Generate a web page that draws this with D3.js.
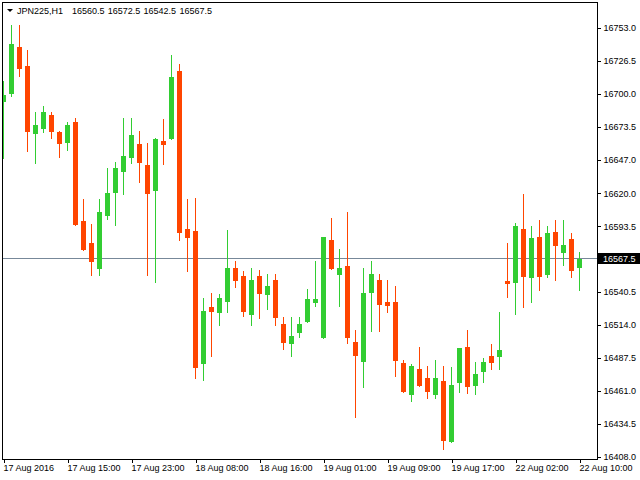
<!DOCTYPE html>
<html>
<head>
<meta charset="utf-8">
<script src="https://cdn.jsdelivr.net/npm/d3@7"></script>
<style>
  body { margin: 0; background: #fff; }
  svg { display: block; font-family: "Liberation Sans", Arial, sans-serif; font-size: 9px; }
</style>
</head>
<body>
<svg id="chart" width="640" height="480"></svg>
<script>
// JPN225 H1 candles, oldest first
var opens  = [16693.5,16700.0,16737.5,16722.5,16668.0,16672.0,16683.0,16669.5,16660.5,16677.5,
              16597.5,16580.0,16559.0,16601.5,16620.0,16637.0,16648.5,16659.5,16642.5,16622.0,
              16662.0,16664.0,16718.5,16591.0,16589.5,16482.5,16528.5,16523.5,16532.5,16560.0,
              16553.5,16522.0,16553.5,16538.0,16550.0,16515.0,16498.5,16507.5,16516.5,16531.5,
              16503.5,16582.5,16554.0,16561.5,16500.5,16484.0,16539.5,16550.0,16532.5,16532.5,
              16483.5,16457.5,16478.5,16471.5,16457.5,16469.0,16420.0,16467.5,16496.5,16465.0,
              16476.0,16489.0,16488.0,16549.5,16548.0,16591.0,16552.0,16585.0,16554.0,16589.0,
              16572.0,16583.0,16560.5];
var highs  = [16710.5,16755.5,16755.5,16735.5,16685.5,16690.0,16685.5,16670.0,16677.5,16680.5,
              16615.5,16595.5,16615.5,16640.5,16645.0,16680.5,16680.5,16670.0,16660.5,16664.5,
              16680.0,16731.5,16724.0,16615.5,16616.0,16535.5,16539.5,16539.0,16590.5,16565.5,
              16557.5,16560.0,16558.0,16555.0,16555.0,16520.5,16520.5,16520.5,16543.0,16565.5,
              16585.0,16600.0,16575.0,16605.0,16510.0,16560.0,16565.5,16555.0,16550.0,16545.5,
              16486.0,16482.5,16496.5,16481.0,16486.0,16481.0,16480.0,16495.5,16510.0,16484.0,
              16487.5,16498.5,16524.5,16580.0,16596.0,16619.5,16593.5,16598.5,16593.5,16598.5,
              16598.5,16588.0,16572.5];
var lows   = [16648.5,16698.5,16714.5,16654.0,16644.5,16669.5,16664.5,16649.5,16654.5,16594.5,
              16574.5,16554.0,16554.0,16599.5,16594.5,16619.5,16644.5,16629.0,16554.0,16548.5,
              16643.5,16664.0,16582.5,16557.5,16471.5,16469.5,16489.0,16514.0,16524.5,16544.5,
              16521.0,16514.0,16519.5,16527.0,16514.0,16494.5,16489.0,16504.5,16516.5,16529.5,
              16503.5,16559.0,16529.5,16499.5,16440.0,16464.0,16509.0,16509.0,16524.5,16473.0,
              16460.0,16453.0,16465.0,16455.0,16455.0,16414.0,16420.0,16460.0,16459.5,16458.5,
              16468.0,16478.5,16478.5,16536.5,16523.0,16528.5,16532.5,16542.0,16552.5,16550.0,
              16562.5,16552.5,16542.5];
var closes = [16699.0,16740.0,16719.5,16669.5,16675.0,16685.5,16669.5,16660.0,16675.0,16594.5,
              16574.5,16565.0,16605.0,16620.0,16640.5,16650.0,16667.0,16644.5,16619.5,16663.5,
              16659.0,16713.5,16588.0,16584.0,16479.5,16525.5,16524.5,16535.5,16560.0,16549.5,
              16524.5,16550.0,16539.0,16545.5,16519.5,16499.5,16505.0,16515.0,16535.0,16535.0,
              16585.0,16559.0,16560.0,16503.5,16489.0,16539.5,16555.0,16529.5,16529.5,16485.0,
              16460.0,16481.0,16465.0,16460.0,16471.5,16420.5,16465.5,16495.5,16464.0,16474.5,
              16484.0,16483.5,16494.0,16547.0,16593.5,16552.5,16584.0,16552.5,16588.0,16577.5,
              16578.5,16557.5,16567.5];

// time axis: a label every 8 bars
var xTickBars   = [0, 8, 16, 24, 32, 40, 48, 56, 64, 72];
var xTickLabels = ["17 Aug 2016", "17 Aug 15:00", "17 Aug 23:00", "18 Aug 08:00", "18 Aug 16:00",
                   "19 Aug 01:00", "19 Aug 09:00", "19 Aug 17:00", "22 Aug 02:00", "22 Aug 10:00"];
var yTickValues = [16753.0, 16726.5, 16700.0, 16673.5, 16647.0, 16620.0, 16593.5,
                   16540.5, 16514.0, 16487.5, 16461.0, 16434.5, 16408.0];

var symbol = "JPN225,H1";
var bidPrice = 16567.5;

(function() {
    var upColor = "#32cd32", downColor = "#ff4500";
    var fontFamily = "Liberation Sans, Arial, sans-serif";
    var fmt = d3.format(".1f");

    var svg = d3.select("#chart");
    // plot frame (window.top is reserved, so use other names)
    var fx0 = 2, fx1 = 597, fy0 = 2, fy1 = 459;

    var x = d3.scaleLinear().domain([0, 72]).range([3, 579]);
    var y = d3.scaleLinear().domain([16408, 16753]).range([456.7, 28]);

    svg.append("defs").append("clipPath").attr("id", "plot")
        .append("rect").attr("x", fx0 + 1).attr("y", fy0 + 1)
        .attr("width", fx1 - fx0 - 1).attr("height", fy1 - fy0 - 1);

    var candles = opens.map(function(o, i) {
        return { i: i, o: o, h: highs[i], l: lows[i], c: closes[i] };
    });

    var plot = svg.append("g").attr("clip-path", "url(#plot)");

    // bid line
    var by = Math.floor(y(bidPrice));
    plot.append("line")
        .attr("x1", fx0).attr("x2", fx1)
        .attr("y1", by + 0.5).attr("y2", by + 0.5)
        .attr("stroke", "#778899").attr("stroke-width", 1)
        .attr("shape-rendering", "crispEdges");

    var g = plot.selectAll("g.candle").data(candles).enter().append("g")
        .attr("class", "candle")
        .attr("shape-rendering", "crispEdges");

    g.append("line")
        .attr("x1", function(d) { return Math.round(x(d.i)) + 0.5; })
        .attr("x2", function(d) { return Math.round(x(d.i)) + 0.5; })
        .attr("y1", function(d) { return Math.round(y(d.h)); })
        .attr("y2", function(d) { return Math.round(y(d.l)) + 1; })
        .attr("stroke", function(d) { return d.c >= d.o ? upColor : downColor; });

    g.append("rect")
        .attr("x", function(d) { return Math.round(x(d.i)) - 2; })
        .attr("width", 5)
        .attr("y", function(d) { return Math.round(y(Math.max(d.o, d.c))); })
        .attr("height", function(d) { return Math.max(1, Math.round(Math.abs(y(d.o) - y(d.c)))); })
        .attr("fill", function(d) { return d.c >= d.o ? upColor : downColor; });

    // frame
    svg.append("rect")
        .attr("x", fx0 + 0.5).attr("y", fy0 + 0.5)
        .attr("width", fx1 - fx0).attr("height", fy1 - fy0)
        .attr("fill", "none").attr("stroke", "#000").attr("stroke-width", 1)
        .attr("shape-rendering", "crispEdges");

    // price axis
    var yAxis = svg.append("g")
        .attr("transform", "translate(" + (fx1 + 0.5) + ",0)")
        .call(d3.axisRight(y).tickValues(yTickValues).tickSize(3).tickPadding(3)
            .tickFormat(fmt));
    yAxis.select(".domain").remove();
    yAxis.selectAll("line").attr("shape-rendering", "crispEdges");
    yAxis.selectAll("text").attr("font-family", fontFamily)
        .attr("font-size", 9).attr("fill", "#000");

    // time axis
    var xAxis = svg.append("g")
        .attr("transform", "translate(0," + (fy1 + 0.5) + ")")
        .call(d3.axisBottom(x).tickValues(xTickBars).tickSize(3).tickPadding(2)
            .tickFormat(function(d, i) { return xTickLabels[i]; }));
    xAxis.select(".domain").remove();
    xAxis.selectAll("line").attr("shape-rendering", "crispEdges").attr("transform", "translate(0.5,0)");
    xAxis.selectAll("text").attr("text-anchor", "start")
        .attr("font-family", fontFamily)
        .attr("font-size", 9).attr("fill", "#000");

    // bid price label
    svg.append("rect")
        .attr("x", fx1 + 1).attr("y", by - 5)
        .attr("width", 640 - fx1 - 1).attr("height", 11)
        .attr("fill", "#000");
    svg.append("text")
        .attr("x", 603).attr("y", by + 0.5).attr("dy", "0.35em")
        .attr("fill", "#fff")
        .text(fmt(bidPrice));

    // header: symbol then last bar O H L C
    var last = candles[candles.length - 1];
    svg.append("path").attr("d", "M7,9 L13,9 L10,12 Z").attr("fill", "#000");
    svg.append("text").attr("x", 17).attr("y", 14).attr("fill", "#000").text(symbol);
    svg.selectAll("text.ohlc").data([last.o, last.h, last.l, last.c]).enter().append("text")
        .attr("class", "ohlc")
        .attr("x", function(d, i) { return 72 + i * 35.8; })
        .attr("y", 14).attr("fill", "#000")
        .text(fmt);
})();
</script>
</body>
</html>
